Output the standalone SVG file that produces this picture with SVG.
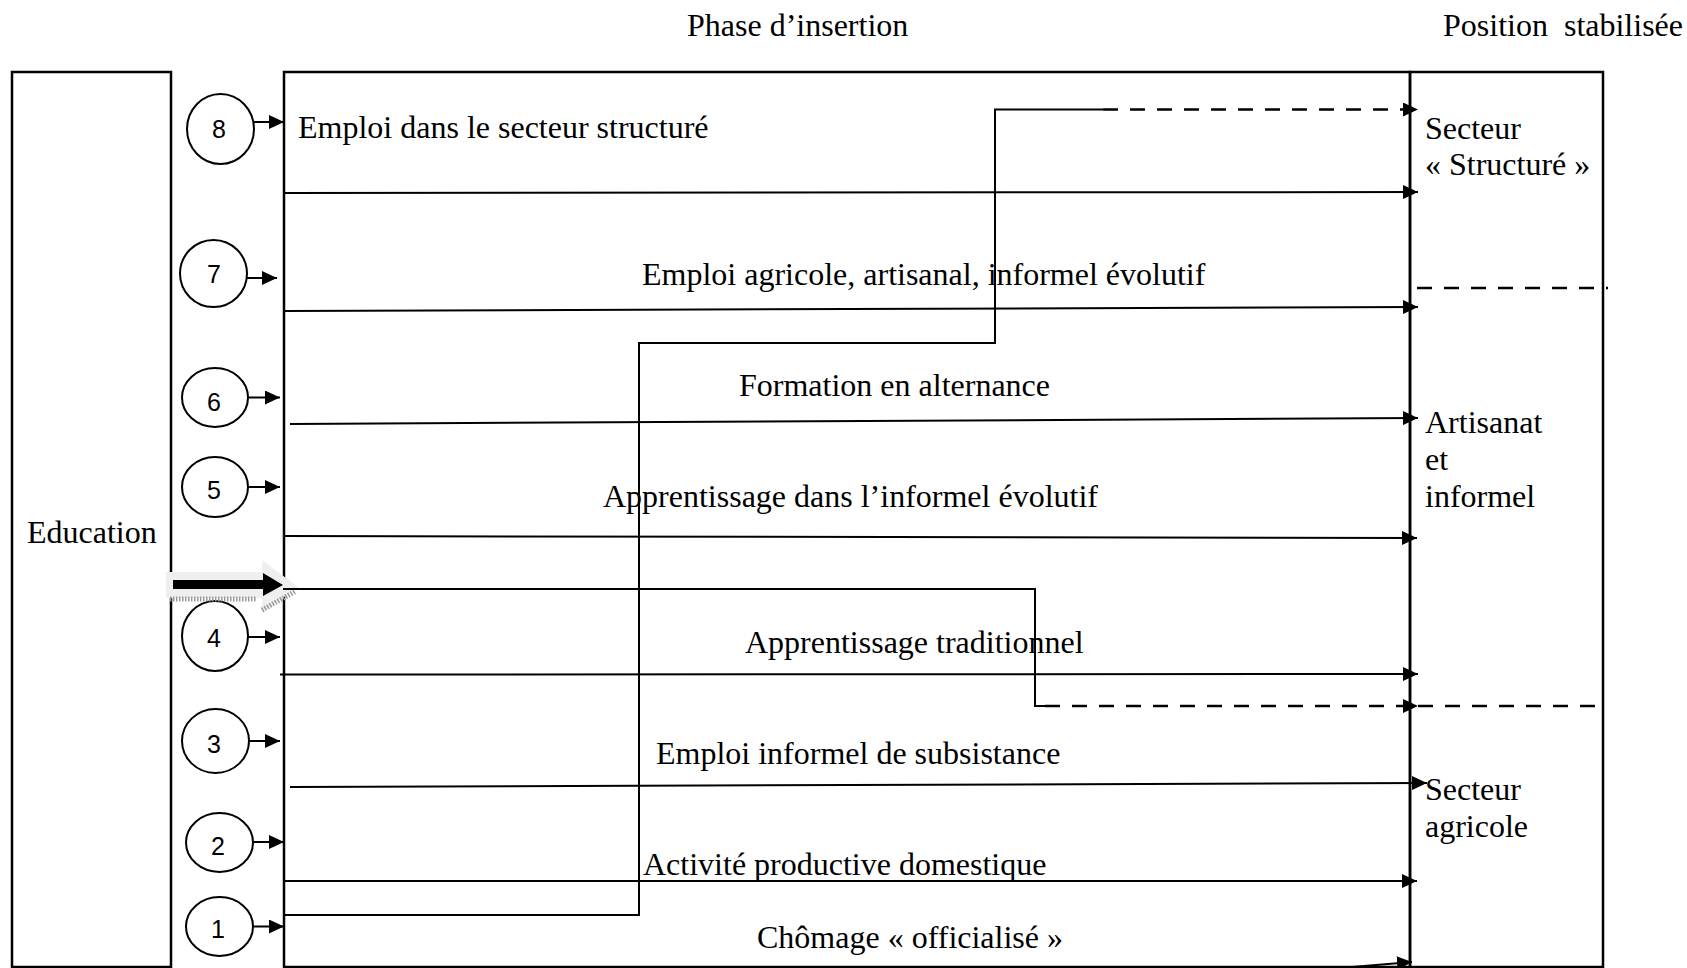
<svg xmlns="http://www.w3.org/2000/svg" width="1687" height="968" viewBox="0 0 1687 968">
<style>
.t{font-family:"Liberation Serif","Times New Roman",serif;font-size:32px;fill:#000}
.n{font-family:"Liberation Sans",Arial,sans-serif;font-size:25px;fill:#000;text-anchor:middle}
.box{fill:none;stroke:#000;stroke-width:2.5}
.c{fill:#fff;stroke:#000;stroke-width:2}
.ln{fill:none;stroke:#000;stroke-width:2}
.arr{marker-end:url(#ah)}
.dash{stroke-dasharray:15 12;stroke-width:2.3}
</style>
<defs>
<marker id="ah" markerUnits="userSpaceOnUse" markerWidth="15" markerHeight="14" viewBox="0 0 15 14" refX="15" refY="7" orient="auto">
<path d="M0,0 L15,7 L0,14 z" fill="#000"/>
</marker>
</defs>
<rect width="1687" height="968" fill="#fff"/>

<g id="titles">
<text class="t" x="687" y="36">Phase d’insertion</text>
<text class="t" x="1443" y="36" xml:space="preserve">Position  stabilisée</text>
</g>

<g id="education">
<rect class="box" x="12" y="72" width="159" height="895"/>
<text class="t" x="27" y="543">Education</text>
</g>

<g id="phase">
<rect class="box" x="284" y="72" width="1126" height="895"/>
<text class="t" x="298" y="138">Emploi dans le secteur structuré</text>
<text class="t" x="642" y="285">Emploi agricole, artisanal, informel évolutif</text>
<text class="t" x="739" y="396">Formation en alternance</text>
<text class="t" x="603" y="507">Apprentissage dans l’informel évolutif</text>
<text class="t" x="745" y="653">Apprentissage traditionnel</text>
<text class="t" x="656" y="764">Emploi informel de subsistance</text>
<text class="t" x="643" y="875">Activité productive domestique</text>
<text class="t" x="757" y="948">Chômage « officialisé »</text>
</g>

<g id="position">
<rect class="box" x="1410" y="72" width="193" height="895"/>
<line class="ln dash" x1="1417" y1="288" x2="1608" y2="288"/>
<line class="ln dash" x1="1418" y1="706" x2="1602" y2="706"/>
<text class="t" x="1425" y="139">Secteur</text>
<text class="t" x="1425" y="175">« Structuré »</text>
<text class="t" x="1425" y="433">Artisanat</text>
<text class="t" x="1425" y="470">et</text>
<text class="t" x="1425" y="507">informel</text>
<text class="t" x="1425" y="800">Secteur</text>
<text class="t" x="1425" y="837">agricole</text>
</g>

<g id="c8"><ellipse class="c" cx="220.5" cy="129" rx="33.5" ry="35"/><text class="n" x="219" y="138">8</text></g>
<g id="c7"><ellipse class="c" cx="213.5" cy="273.5" rx="33.5" ry="33.5"/><text class="n" x="214" y="283">7</text></g>
<g id="c6"><ellipse class="c" cx="215" cy="397.5" rx="33" ry="29.5"/><text class="n" x="214" y="411">6</text></g>
<g id="c5"><ellipse class="c" cx="215" cy="487" rx="33" ry="30"/><text class="n" x="214" y="499">5</text></g>
<g id="c4"><ellipse class="c" cx="215" cy="636" rx="33" ry="35"/><text class="n" x="214" y="647">4</text></g>
<g id="c3"><ellipse class="c" cx="215.5" cy="741" rx="33.5" ry="32"/><text class="n" x="214" y="753">3</text></g>
<g id="c2"><ellipse class="c" cx="219.5" cy="842.5" rx="33.5" ry="29.5"/><text class="n" x="218" y="855">2</text></g>
<g id="c1"><ellipse class="c" cx="219.5" cy="926.5" rx="33.5" ry="29.5"/><text class="n" x="218" y="938">1</text></g>

<g id="bigarrow">
<path d="M166,572 L262,572 L262,560 L298,587 L262,613 L262,598 L166,598 z" fill="#efefef"/>
<line x1="170" y1="599" x2="256" y2="599" stroke="#9a9a9a" stroke-width="5" stroke-dasharray="1.5 1.5"/>
<line x1="262" y1="610" x2="296" y2="591" stroke="#9a9a9a" stroke-width="5" stroke-dasharray="1.5 1.5"/>
<path d="M173,580 L263,580 L263,573 L283,585 L263,596 L263,589 L173,589 z" fill="#000"/>
</g>

<g id="connectors">
<line class="ln arr" x1="254" y1="122" x2="284" y2="122"/>
<line class="ln arr" x1="247" y1="278" x2="277" y2="278"/>
<line class="ln arr" x1="248" y1="397.5" x2="280" y2="397.5"/>
<line class="ln arr" x1="248" y1="487" x2="280" y2="487"/>
<line class="ln arr" x1="248" y1="637" x2="280" y2="637"/>
<line class="ln arr" x1="249" y1="741" x2="280" y2="741"/>
<line class="ln arr" x1="253" y1="842" x2="284" y2="842"/>
<line class="ln arr" x1="253" y1="926.5" x2="284" y2="926.5"/>

<line class="ln arr" x1="284" y1="193" x2="1418" y2="192"/>
<line class="ln arr" x1="284" y1="311" x2="1418" y2="307"/>
<line class="ln arr" x1="290" y1="424" x2="1418" y2="418"/>
<line class="ln arr" x1="284" y1="536" x2="1417" y2="538"/>
<line class="ln arr" x1="280" y1="674.5" x2="1418" y2="674"/>
<line class="ln arr" x1="290" y1="787" x2="1427" y2="783"/>
<line class="ln arr" x1="284" y1="881" x2="1417" y2="881"/>
<line class="ln arr" x1="1340" y1="968" x2="1412" y2="962"/>

<polyline class="ln" points="284,915 639,915 639,343 995,343 995,109.5 1103,109.5"/>
<line class="ln dash arr" x1="1103" y1="109.5" x2="1418" y2="109.5"/>

<polyline class="ln" points="283,589 1035,589 1035,706 1045,706"/>
<line class="ln dash arr" x1="1045" y1="706" x2="1418" y2="706"/>
</g>
</svg>
